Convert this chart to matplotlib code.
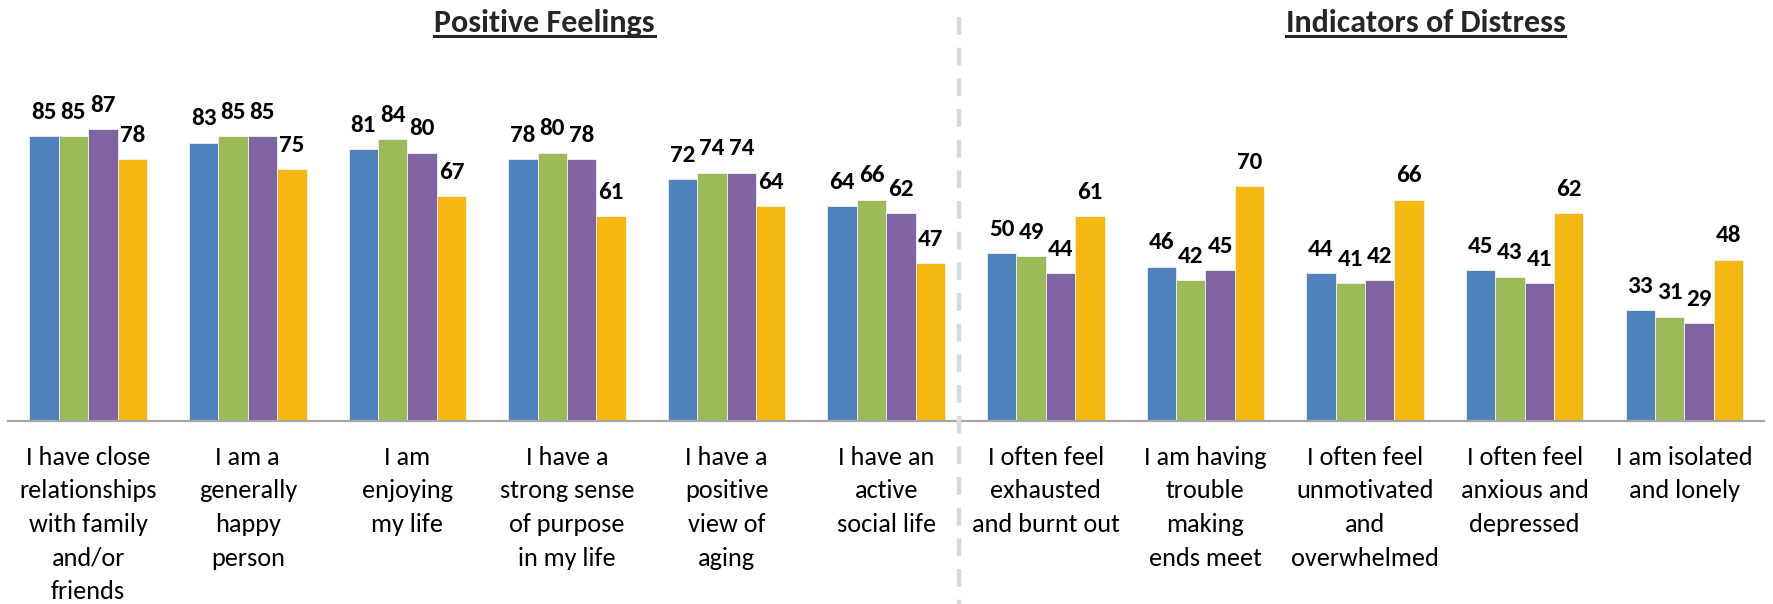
import matplotlib
matplotlib.use("Agg")
import matplotlib.pyplot as plt
from matplotlib.lines import Line2D
from matplotlib import font_manager as fm
import numpy as np

available = {f.name for f in fm.fontManager.ttflist}
family = 'DejaVu Sans'
for cand in ['Carlito', 'Lato', 'Liberation Sans Narrow', 'Roboto Condensed', 'Noto Sans']:
    if cand in available:
        family = cand
        break
plt.rcParams['font.family'] = [family, 'DejaVu Sans']

categories = [
    "I have close\nrelationships\nwith family\nand/or\nfriends",
    "I am a\ngenerally\nhappy\nperson",
    "I am\nenjoying\nmy life",
    "I have a\nstrong sense\nof purpose\nin my life",
    "I have a\npositive\nview of\naging",
    "I have an\nactive\nsocial life",
    "I often feel\nexhausted\nand burnt out",
    "I am having\ntrouble\nmaking\nends meet",
    "I often feel\nunmotivated\nand\noverwhelmed",
    "I often feel\nanxious and\ndepressed",
    "I am isolated\nand lonely",
]
series1 = [85, 83, 81, 78, 72, 64, 50, 46, 44, 45, 33]
series2 = [85, 85, 84, 80, 74, 66, 49, 42, 41, 43, 31]
series3 = [87, 85, 80, 78, 74, 62, 44, 45, 42, 41, 29]
series4 = [78, 75, 67, 61, 64, 47, 61, 70, 66, 62, 48]
section_titles = ["Positive Feelings", "Indicators of Distress"]

colors = ["#4F81BD", "#9BBB59", "#8064A2", "#F5B811"]

fig = plt.figure(figsize=(17.73, 6.04), dpi=100)
ax = fig.add_axes([0.0047, 0.3036, 0.9903, 0.5546])

x = np.arange(len(categories))
w = 0.184
all_series = [series1, series2, series3, series4]
for i, (vals, c) in enumerate(zip(all_series, colors)):
    pos = x + (i - 1.5) * w
    ax.bar(pos, vals, width=w, color=c, edgecolor='#F2F2F2', linewidth=0.6, zorder=2)
    for px, v in zip(pos, vals):
        ax.annotate(f"{v}", (px, v), xytext=(0, 12.5), textcoords='offset points',
                    ha='center', va='baseline', fontsize=18, fontweight='bold',
                    color='#000000')

ax.set_xlim(-0.5, len(categories) - 0.5)
ax.set_ylim(0, 100)
ax.set_xticks(x)
ax.set_xticklabels(categories, fontsize=18.9, color='#000000', linespacing=1.56)
ax.tick_params(axis='x', length=0, pad=18)
ax.set_yticks([])
for s in ['top', 'right', 'left']:
    ax.spines[s].set_visible(False)
ax.spines['bottom'].set_color('#A6A6A6')
ax.spines['bottom'].set_linewidth(1.6)

# divider
fig.add_artist(Line2D([0.5407, 0.5407], [0.972, 0.0], transform=fig.transFigure,
                      color='#D9D9D9', linewidth=3.2, dashes=(4, 2.9)))

# titles with underline
title_x = [0.307, 0.804]
fig.canvas.draw()
renderer = fig.canvas.get_renderer()
for tx, t in zip(title_x, section_titles):
    txt = fig.text(tx, 0.962, t, ha='center', va='center', fontsize=23,
                   fontweight='bold', color='#262626')
    bb = txt.get_window_extent(renderer=renderer).transformed(fig.transFigure.inverted())
    fig.add_artist(Line2D([bb.x0, bb.x1], [bb.y0 + 0.002, bb.y0 + 0.002],
                          transform=fig.transFigure, color='#262626', linewidth=2.2))

fig.savefig("out.png", dpi=100)
